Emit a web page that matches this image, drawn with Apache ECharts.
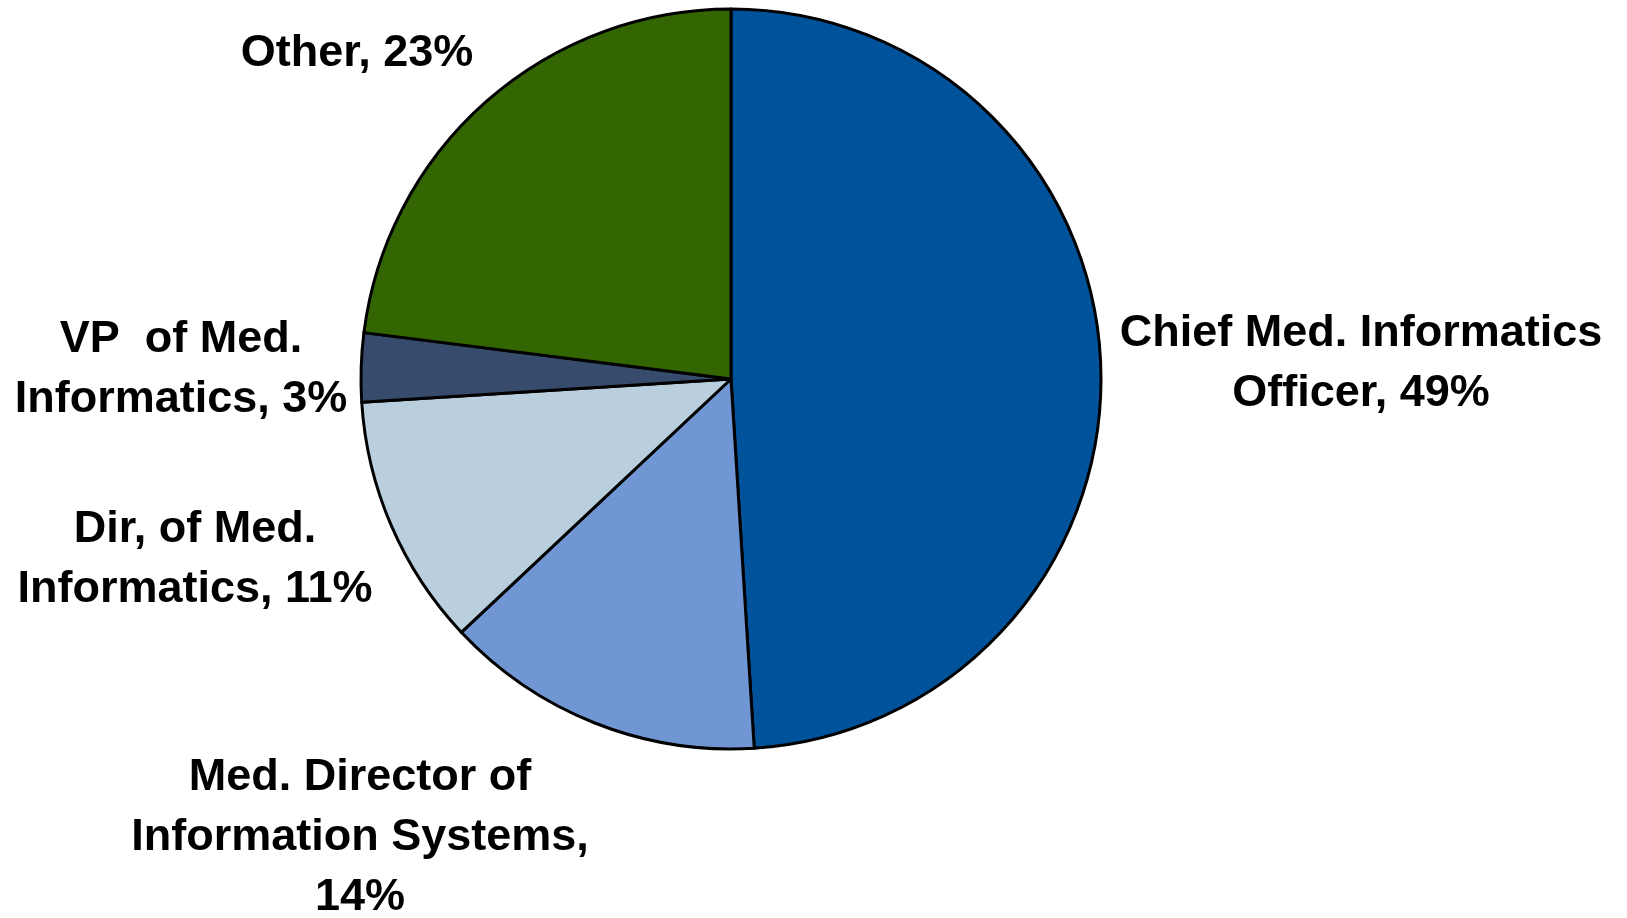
<!DOCTYPE html>
<html>
<head>
<meta charset="utf-8">
<title>Medical informatics leadership titles</title>
<script src="https://cdn.jsdelivr.net/npm/echarts@6/dist/echarts.min.js"></script>
<style>
  html, body { margin: 0; padding: 0; background: #ffffff; }
  #chart { width: 1627px; height: 918px; }
</style>
</head>
<body>
<div id="chart"></div>
<script>
// Share of respondents by job title (percent)
const titles = [
  'Chief Med. Informatics\nOfficer',
  'Med. Director of\nInformation Systems,\n',
  'Dir, of Med.\nInformatics',
  'VP  of Med.\nInformatics',
  'Other'
];
const shares = [49, 14, 11, 3, 23];
const sliceColors = ['#00529B', '#7097D3', '#B9CFDE', '#374C6C', '#336600'];

// Where each label block sits, relative to the pie centre (px)
const labelOffsets = [
  [630, -15],
  [-371, 459],
  [-536, 181],
  [-550, -9],
  [-374, -325]
];
const pieCenter = [731, 379];

const chart = echarts.init(document.getElementById('chart'), null, { renderer: 'canvas' });

chart.setOption({
  animation: false,
  backgroundColor: '#ffffff',
  series: [{
    type: 'pie',
    center: pieCenter,
    radius: 370,
    startAngle: 90,
    clockwise: true,
    avoidLabelOverlap: false,
    data: titles.map((name, i) => ({
      name: name,
      value: shares[i],
      itemStyle: { color: sliceColors[i] }
    })),
    itemStyle: { borderColor: '#000000', borderWidth: 3 },
    label: {
      show: true,
      position: 'outside',
      formatter: p => {
        const sep = p.name.endsWith('\n') ? '' : ', ';
        return p.name + sep + p.value + '%';
      },
      fontFamily: '"Liberation Sans", Arial, Helvetica, sans-serif',
      fontWeight: 'bold',
      fontSize: 45,
      lineHeight: 60,
      color: '#000000',
      align: 'center'
    },
    labelLine: { show: false },
    labelLayout: params => {
      const off = labelOffsets[params.dataIndex];
      return {
        x: pieCenter[0] + off[0],
        y: pieCenter[1] + off[1],
        align: 'center',
        verticalAlign: 'middle'
      };
    },
    emphasis: { disabled: true }
  }]
});
</script>
</body>
</html>
